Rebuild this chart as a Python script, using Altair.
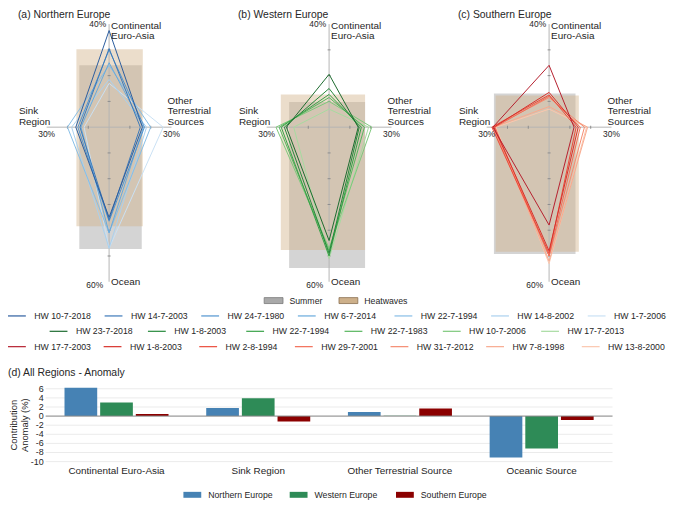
import altair as alt
import pandas as pd

FONT = "Liberation Sans"
TXT = "#262626"

# ---------------- radar data (% contribution per source) ----------------
north_names = ["HW 10-7-2018", "HW 14-7-2003", "HW 24-7-1980", "HW 6-7-2014",
               "HW 22-7-1994", "HW 14-8-2002", "HW 1-7-2006"]
north_colors = ["#2b5c9e", "#3b78b8", "#4f93cf", "#67a9dc", "#86bde6", "#a9d0ee", "#c9e1f4"]
north_cont = [37.5, 30.5, 30.0, 25.0, 24.0, 18.5, 17.0]
north_other = [16.0, 15.0, 17.0, 16.5, 20.0, 18.0, 26.0]
north_ocean = [35.0, 36.0, 36.5, 41.0, 41.0, 47.0, 47.0]
north_sink = [16.0, 14.0, 15.0, 13.5, 20.0, 18.0, 12.0]

west_names = ["HW 23-7-2018", "HW 1-8-2003", "HW 22-7-1994", "HW 22-7-1983",
              "HW 10-7-2006", "HW 17-7-2013"]
west_colors = ["#1b6a2e", "#24883a", "#36a146", "#55b55c", "#7cc87a", "#a6dba0"]
west_cont = [20.5, 15.0, 12.7, 11.5, 10.0, 7.0]
west_other = [14.0, 14.5, 15.5, 17.0, 20.5, 19.0]
west_ocean = [44.0, 49.0, 50.0, 48.0, 47.0, 51.0]
west_sink = [20.5, 21.5, 23.0, 24.0, 25.5, 17.0]

south_names = ["HW 17-7-2003", "HW 1-8-2003", "HW 2-8-1994", "HW 29-7-2001",
               "HW 31-7-2012", "HW 7-8-1998", "HW 13-8-2000"]
south_colors = ["#b51f2e", "#d7302a", "#eb4a3a", "#f26b55", "#f58a6f", "#f8a98e", "#fbc6ad"]
south_cont = [24.0, 13.5, 12.5, 12.0, 11.5, 8.0, 7.0]
south_other = [12.0, 14.0, 13.0, 15.0, 17.0, 18.5, 18.0]
south_ocean = [38.0, 48.0, 49.0, 50.0, 50.0, 52.0, 53.0]
south_sink = [27.0, 26.5, 27.5, 26.0, 27.0, 26.5, 25.5]

# boxes: [sink, other terrestrial, continental, ocean]
north_summer_box = [14.3, 15.7, 24.0, 47.3]
north_heatwave_box = [15.7, 16.2, 30.2, 38.5]
west_summer_box = [19.2, 17.3, 9.8, 54.7]
west_heatwave_box = [23.2, 17.3, 12.7, 47.7]
south_summer_box = [26.5, 12.7, 13.1, 49.2]
south_heatwave_box = [25.7, 14.3, 12.3, 48.4]

# radar axis maxima: continental (up), other (right), ocean (down), sink (left)
axis_max = [40, 30, 60, 30]
vert_ticks = [10, 20, 30, -10, -20, -30, -40, -50]
horiz_ticks = [-20, -10, 10, 20]

seasons = ["Summer", "Heatwaves"]
season_fill = ["#a0a0a0", "#d2b48c"]

# ---------------- anomaly bar data ----------------
bar_categories = ["Continental Euro-Asia", "Sink Region", "Other Terrestrial Source", "Oceanic Source"]
bar_regions = ["Northern Europe", "Western Europe", "Southern Europe"]
bar_colors = ["#4682b4", "#2e8b57", "#8b0000"]
bar_north = [6.2, 1.8, 0.9, -9.1]
bar_west = [3.0, 3.9, 0.1, -7.1]
bar_south = [0.45, -1.2, 1.65, -0.85]
bar_ticks = [6, 4, 2, 0, -2, -4, -6, -8, -10]

ONE = pd.DataFrame({"a": [0]})
layers = []


def txt(s, x, y, align="left", size=10.0, color=TXT, angle=0):
    return alt.Chart(ONE).mark_text(
        text=s, align=align, baseline="middle", fontSize=size, font=FONT, color=color, angle=angle
    ).encode(x=alt.value(x), y=alt.value(y))


# ---------------- radar panels ----------------
CX, CY = 102, 118
KX, KY = 2.1, 2.6
PW, PH = 222, 280
XDOM = [-CX / KX, (PW - CX) / KX]
YDOM = [-(PH - CY) / KY, CY / KY]
ys = alt.Scale(domain=YDOM, range=[PH, 0], nice=False, zero=False)


def radar(p, title, names, colors, cont, other, ocean, sink, summer_box, hw_box):
    ox = PW * p
    xs = alt.Scale(domain=XDOM, range=[ox, ox + PW], nice=False, zero=False)
    rows = []
    for n, c, o, oc, s in reversed(list(zip(names, cont, other, ocean, sink))):
        for k, (x, y) in enumerate([(0, c), (o, 0), (0, -oc), (-s, 0), (0, c)]):
            rows.append({"name": n, "k": k, "x": x, "y": y})
    ldf = pd.DataFrame(rows)
    bdf = pd.DataFrame({
        "season": seasons,
        "x": [-summer_box[0], -hw_box[0]],
        "x2": [summer_box[1], hw_box[1]],
        "y": [summer_box[2], hw_box[2]],
        "y2": [-summer_box[3], -hw_box[3]],
    })
    adf = pd.DataFrame({"x": [0, -axis_max[3]], "x2": [0, axis_max[1]],
                        "y": [axis_max[0], 0], "y2": [-axis_max[2], 0]})
    vdf = pd.DataFrame({"x": [0] * len(vert_ticks), "y": vert_ticks})
    hdf = pd.DataFrame({"x": horiz_ticks, "y": [0] * len(horiz_ticks)})

    X = alt.X("x:Q", scale=xs, axis=None)
    Y = alt.Y("y:Q", scale=ys, axis=None)

    out = [
        alt.Chart(bdf).mark_rect(opacity=0.45).encode(
            x=X, x2=alt.X2("x2"), y=Y, y2=alt.Y2("y2"),
            fill=alt.Fill("season:N", scale=alt.Scale(domain=seasons, range=season_fill), legend=None)),
        alt.Chart(adf).mark_rule(color="#b4b4b4", strokeWidth=1).encode(
            x=X, x2=alt.X2("x2"), y=Y, y2=alt.Y2("y2")),
        alt.Chart(vdf).mark_tick(orient="horizontal", size=3, thickness=1, color="#8c8c8c", opacity=1).encode(x=X, y=Y),
        alt.Chart(hdf).mark_tick(orient="vertical", size=3, thickness=1, color="#8c8c8c", opacity=1).encode(x=X, y=Y),
        alt.Chart(ldf).mark_line(strokeWidth=1).encode(
            x=X, y=Y, order="k:Q",
            color=alt.Color("name:N", scale=alt.Scale(domain=names, range=colors), legend=None)),
    ]
    top = CY - axis_max[0] * KY
    bot = CY + axis_max[2] * KY
    out += [
        txt(title, ox + 10, 5, size=10.5),
        txt("40%", ox + CX - 3, top, "right", 8.5),
        txt("Continental", ox + CX + 2, top + 2),
        txt("Euro-Asia", ox + CX + 2, top + 12.5),
        txt("Sink", ox + 11, CY - 16),
        txt("Region", ox + 11, CY - 5.5),
        txt("Other", ox + CX + 59, CY - 26.5),
        txt("Terrestrial", ox + CX + 59, CY - 16),
        txt("Sources", ox + CX + 59, CY - 5.5),
        txt("30%", ox + CX - axis_max[3] * KX, CY + 7, "center", 8.5),
        txt("30%", ox + CX + axis_max[1] * KX, CY + 7, "center", 8.5),
        txt("60%", ox + CX - 6, bot + 3, "right", 8.5),
        txt("Ocean", ox + CX + 2, bot),
    ]
    return out


layers += radar(0, "(a) Northern Europe", north_names, north_colors, north_cont, north_other,
                north_ocean, north_sink, north_summer_box, north_heatwave_box)
layers += radar(1, "(b) Western Europe", west_names, west_colors, west_cont, west_other,
                west_ocean, west_sink, west_summer_box, west_heatwave_box)
layers += radar(2, "(c) Southern Europe", south_names, south_colors, south_cont, south_other,
                south_ocean, south_sink, south_summer_box, south_heatwave_box)

# ---------------- radar legends ----------------
LEG_FS = 8.8
SEASON_Y = 293
sdf = pd.DataFrame({"season": seasons, "i": [0, 1]})
sx = alt.X("i:Q", scale=alt.Scale(domain=[0, 1], range=[268, 343.5]), axis=None)
layers.append(alt.Chart(sdf).mark_tick(orient="horizontal", size=19, thickness=6, strokeWidth=0.8, opacity=1).encode(
    x=sx, y=alt.value(SEASON_Y),
    color=alt.Color("season:N", scale=alt.Scale(domain=seasons, range=["#a9a9a9", "#cdb08a"]), legend=None),
    stroke=alt.Stroke("season:N", scale=alt.Scale(domain=seasons, range=["#7a7a7a", "#8a7050"]), legend=None),
))
layers.append(alt.Chart(sdf).mark_text(align="left", baseline="middle", dx=16, fontSize=LEG_FS, font=FONT,
                                       color=TXT).encode(x=sx, y=alt.value(SEASON_Y), text="season:N"))


def hw_row(names, colors, x0, x1, y):
    df = pd.DataFrame({"name": names, "i": list(range(len(names)))})
    xx = alt.X("i:Q", scale=alt.Scale(domain=[0, len(names) - 1], range=[x0, x1]), axis=None)
    ln = alt.Chart(df).mark_tick(orient="horizontal", size=18, thickness=1.2, opacity=1).encode(
        x=xx, y=alt.value(y),
        color=alt.Color("name:N", scale=alt.Scale(domain=names, range=colors), legend=None))
    lb = alt.Chart(df).mark_text(align="left", baseline="middle", dx=17.5, fontSize=LEG_FS, font=FONT,
                                 color=TXT).encode(x=xx, y=alt.value(y), text="name:N")
    return [ln, lb]


layers += hw_row(north_names, north_colors, 9, 594, 308.5)
layers += hw_row(west_names, west_colors, 51, 547, 324)
layers += hw_row(south_names, south_colors, 9, 588, 339.5)

# ---------------- anomaly bar chart ----------------
BL, BR = 38, 610
BTOP, BBOT = 382, 455.5
bys = alt.Scale(domain=[-10, 6], range=[BBOT, BTOP], nice=False, zero=False)
bxs = alt.Scale(domain=bar_categories, range=[BL, BR], paddingInner=0.266, paddingOuter=0.133)

bar_df = pd.DataFrame({
    "category": bar_categories * 3,
    "region": [bar_regions[0]] * 4 + [bar_regions[1]] * 4 + [bar_regions[2]] * 4,
    "value": bar_north + bar_west + bar_south,
})
tick_df = pd.DataFrame({"v": bar_ticks, "lab": [str(t) for t in bar_ticks]})
cat_df = pd.DataFrame({"category": bar_categories})
reg_df = pd.DataFrame({"region": bar_regions, "i": [0, 1, 2]})
bar_color = alt.Scale(domain=bar_regions, range=bar_colors)

layers.append(alt.Chart(tick_df).mark_rule(color="#ebebeb", strokeWidth=1).encode(
    y=alt.Y("v:Q", scale=bys, axis=None), x=alt.value(BL), x2=alt.value(BR)))
layers.append(alt.Chart(tick_df).mark_text(align="right", baseline="middle", fontSize=9, font=FONT,
                                           color=TXT).encode(
    y=alt.Y("v:Q", scale=bys, axis=None), x=alt.value(BL - 2), text="lab:N"))
layers.append(alt.Chart(bar_df).mark_bar().encode(
    x=alt.X("category:N", scale=bxs, axis=None),
    xOffset=alt.XOffset("region:N", scale=alt.Scale(domain=bar_regions, paddingInner=0.083, paddingOuter=0)),
    y=alt.Y("value:Q", scale=bys, axis=None),
    y2=alt.datum(0),
    color=alt.Color("region:N", scale=bar_color, legend=None),
))
layers.append(alt.Chart(pd.DataFrame({"v": [0]})).mark_rule(color="#8a8a8a", strokeWidth=1).encode(
    y=alt.Y("v:Q", scale=bys, axis=None), x=alt.value(BL), x2=alt.value(BR)))
layers.append(alt.Chart(cat_df).mark_text(baseline="middle", fontSize=10, font=FONT, color=TXT).encode(
    x=alt.X("category:N", scale=bxs, axis=None), y=alt.value(BBOT + 9.5), text="category:N"))
layers.append(txt("(d) All Regions - Anomaly", 0, BTOP - 16, size=10.5))
layers.append(txt("Contribution", 6, (BTOP + BBOT) / 2, "center", 9.5, angle=270))
layers.append(txt("Anomaly (%)", 17.5, (BTOP + BBOT) / 2, "center", 9.5, angle=270))

# bar legend
LEG_Y = 489
rx = alt.X("i:Q", scale=alt.Scale(domain=[0, 2], range=[186, 400.5]), axis=None)
layers.append(alt.Chart(reg_df).mark_tick(orient="horizontal", size=18, thickness=6, opacity=1).encode(
    x=rx, y=alt.value(LEG_Y), color=alt.Color("region:N", scale=bar_color, legend=None)))
layers.append(alt.Chart(reg_df).mark_text(align="left", baseline="middle", dx=16, fontSize=LEG_FS, font=FONT,
                                          color=TXT).encode(x=rx, y=alt.value(LEG_Y), text="region:N"))

chart = alt.layer(*layers).resolve_scale(
    x="independent", y="independent", color="independent", fill="independent", stroke="independent"
).properties(width=666, height=488, padding=0).configure_view(strokeWidth=0)

chart.save("out.html", embed_options={"renderer": "svg", "actions": False})
